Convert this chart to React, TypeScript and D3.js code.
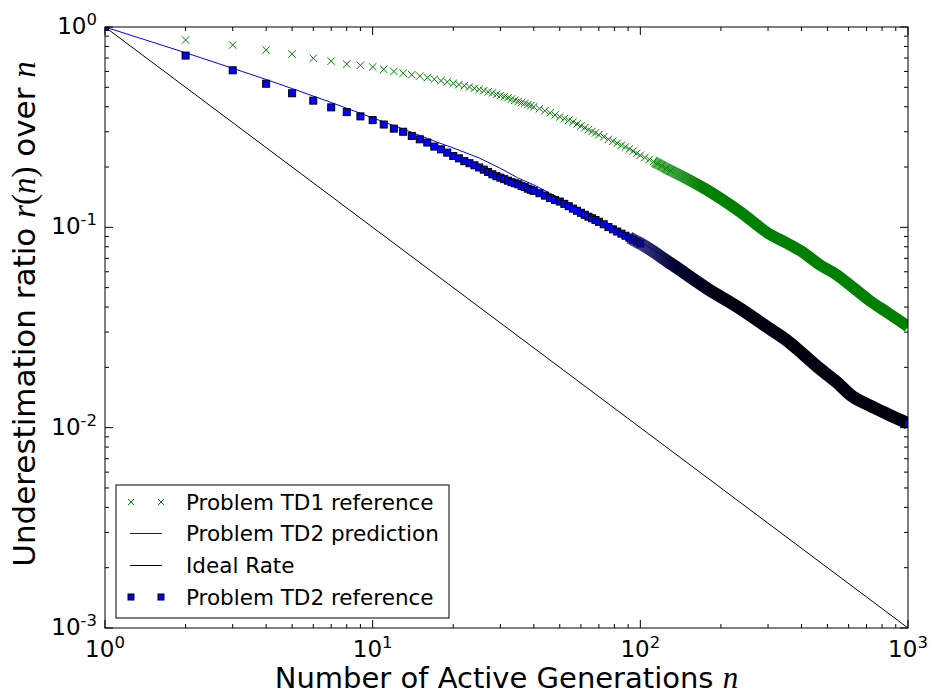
import React from "react";
import * as d3 from "d3";

// ---- data ----
const td1N = [1,2,3,4,5,6,7,8,9,10,11,12,13,14,15,16,17,18,19,20,21,22,23,24,25,26,27,28,29,30,31,32,33,34,35,36,37,38,39,40,42,44,46,48,50,52,54,56,58,60,62,64,66,68,70,73,76,79,82,85,88,91,94,97,100,104,108,112,116,120,125,130,177,235,304,352,404,468,541,621,719,832,1000];
const td1Values = [1.0,0.861,0.813,0.768,0.733,0.698,0.676,0.653,0.644,0.632,0.615,0.600,0.588,0.578,0.569,0.559,0.549,0.540,0.532,0.523,0.516,0.509,0.502,0.495,0.488,0.481,0.474,0.468,0.461,0.455,0.449,0.443,0.437,0.431,0.425,0.420,0.415,0.410,0.405,0.400,0.391,0.382,0.373,0.364,0.356,0.349,0.342,0.336,0.328,0.321,0.314,0.307,0.301,0.296,0.290,0.283,0.275,0.269,0.263,0.257,0.252,0.246,0.240,0.234,0.229,0.223,0.218,0.213,0.208,0.203,0.197,0.192,0.154,0.120,0.0925,0.0835,0.0752,0.0650,0.0580,0.0503,0.0431,0.0378,0.0320];

const td2N = [1,2,3,4,5,6,7,8,9,10,11,12,13,14,15,16,17,18,19,20,21,22,23,24,25,26,27,28,29,30,31,32,33,34,35,36,37,38,39,40,42,44,46,48,50,52,54,56,58,60,62,64,66,68,70,73,76,79,82,85,88,91,94,97,100,132,177,235,304,352,404,468,541,621,719,832,1000];
const td2Values = [1.0,0.720,0.608,0.521,0.467,0.429,0.397,0.376,0.358,0.343,0.326,0.311,0.300,0.286,0.275,0.265,0.253,0.245,0.236,0.227,0.221,0.214,0.209,0.204,0.199,0.194,0.189,0.184,0.180,0.177,0.174,0.171,0.168,0.166,0.164,0.161,0.159,0.156,0.154,0.152,0.148,0.144,0.140,0.137,0.1345,0.131,0.1275,0.124,0.1210,0.1182,0.1155,0.1130,0.1110,0.1088,0.1066,0.1036,0.1003,0.0977,0.0953,0.0930,0.0908,0.0888,0.0868,0.0848,0.0830,0.0650,0.0497,0.0395,0.0312,0.0273,0.0234,0.0197,0.0169,0.0143,0.0129,0.01175,0.0105];

const predN = [1,2,3,4,5,6,7,8,9,10,12,14,16,18,20,25,30,35,40,45,50,60,75,100,150,200,300,400,500,700,1000];
const predValues = [1,0.744,0.622,0.547,0.493,0.452,0.42,0.393,0.371,0.352,0.322,0.298,0.278,0.262,0.249,0.222,0.197,0.176,0.163,0.150,0.140,0.122,0.104,0.085,0.060,0.047,0.032,0.0237,0.019,0.0132,0.0106];

const idealN = [1, 1000];
const idealValues = [1, 0.001];

const xTickExps = [0, 1, 2, 3];
const yTickExps = [-3, -2, -1, 0];

const legendLabels = ["Problem TD1 reference", "Problem TD2 prediction", "Ideal Rate", "Problem TD2 reference"];

const W = 932, H = 694;
const L = 105, R = 908, T = 27, B = 628;
const GREEN = "#008000", BLUE = "#0000ff";
const FONT = "'DejaVu Sans', sans-serif";
const MATH = "'Liberation Serif', 'DejaVu Serif', serif";

const zip = (a: number[], b: number[]) => a.map((v, i) => [v, b[i]] as [number, number]);

export default function App() {
  const x = d3.scaleLog().domain([1, 1000]).range([L, R]);
  const y = d3.scaleLog().domain([0.001, 1]).range([B, T]);
  const line = d3.line<[number, number]>().x(d => x(d[0])).y(d => y(d[1]));
  const bandLine = d3.line<[number, number]>().x(d => x(d[0])).y(d => y(d[1])).curve(d3.curveMonotoneX);

  const td1 = zip(td1N, td1Values);
  const td2 = zip(td2N, td2Values);
  const pred = zip(predN, predValues);
  const ideal = zip(idealN, idealValues);

  const td1Band = td1.filter(d => d[0] >= 112);
  const td2Band = td2.filter(d => d[0] >= 91);
  const td2Last = td2[td2.length - 1];

  const minorX: number[] = [];
  [1, 10, 100].forEach(dd => { for (let k = 2; k <= 9; k++) minorX.push(dd * k); });
  const minorY: number[] = [];
  [0.001, 0.01, 0.1].forEach(dd => { for (let k = 2; k <= 9; k++) minorY.push(dd * k); });

  const crossPath = (s: number) => `M${-s},${-s}L${s},${s}M${-s},${s}L${s},${-s}`;

  const legendRows = [502, 533.5, 565.5, 597];
  const yMid = 314;

  return (
    <div style={{ position: "absolute", left: 0, top: 0 }}>
      <svg width={W} height={H} style={{ display: "block", background: "#fff" }} fontFamily={FONT}>
        <defs>
          <clipPath id="plotClip">
            <rect x={L} y={T} width={R - L} height={B - T} />
          </clipPath>
          <linearGradient id="bandBlack" gradientUnits="userSpaceOnUse" x1={x(91)} x2={x(200)} y1={0} y2={0}>
            <stop offset="0" stopColor="#0c0c78" stopOpacity={0.75} />
            <stop offset="0.5" stopColor="#020230" stopOpacity={1} />
            <stop offset="1" stopColor="#00000e" stopOpacity={1} />
          </linearGradient>
          <linearGradient id="bandGreen" gradientUnits="userSpaceOnUse" x1={x(112)} x2={x(170)} y1={0} y2={0}>
            <stop offset="0" stopColor={GREEN} stopOpacity={0.6} />
            <stop offset="1" stopColor={GREEN} stopOpacity={1} />
          </linearGradient>
        </defs>
        <rect x={0} y={0} width={W} height={H} fill="#fff" />

        <g clipPath="url(#plotClip)">
          {/* TD1 reference crosses */}
          {td1.map((d, i) => (
            <path key={"c" + i} d={crossPath(3.7)} transform={`translate(${x(d[0])},${y(d[1])})`} stroke={GREEN} strokeWidth={1} fill="none" />
          ))}
          <path d={bandLine(td1Band) || ""} fill="none" stroke="url(#bandGreen)" strokeWidth={11.5} strokeLinejoin="round" />
          {/* TD2 prediction */}
          <path d={line(pred) || ""} fill="none" stroke={BLUE} strokeWidth={1} />
          {/* Ideal rate */}
          <path d={line(ideal) || ""} fill="none" stroke="#000" strokeWidth={1} />
          {/* TD2 reference squares */}
          {td2.map((d, i) => (
            <rect key={"s" + i} x={x(d[0]) - 3.5} y={y(d[1]) - 3.5} width={7} height={7} fill={BLUE} stroke="#000" strokeWidth={1} />
          ))}
          <path d={bandLine(td2Band) || ""} fill="none" stroke="url(#bandBlack)" strokeWidth={12.5} strokeLinejoin="round" />
          <rect x={x(td2Last[0]) - 3.5} y={y(td2Last[1]) - 3.5} width={7} height={7} fill={BLUE} stroke="#000" strokeWidth={1} />
        </g>

        {/* frame */}
        <rect x={L} y={T} width={R - L} height={B - T} fill="none" stroke="#000" strokeWidth={1} />

        {/* ticks */}
        {xTickExps.map(e => {
          const px = x(Math.pow(10, e));
          return (
            <g key={"xt" + e}>
              <line x1={px} x2={px} y1={B} y2={B - 8} stroke="#000" />
              <line x1={px} x2={px} y1={T} y2={T + 8} stroke="#000" />
            </g>
          );
        })}
        {minorX.map(v => {
          const px = x(v);
          return (
            <g key={"xm" + v}>
              <line x1={px} x2={px} y1={B} y2={B - 4} stroke="#000" />
              <line x1={px} x2={px} y1={T} y2={T + 4} stroke="#000" />
            </g>
          );
        })}
        {yTickExps.map(e => {
          const py = y(Math.pow(10, e));
          return (
            <g key={"yt" + e}>
              <line x1={L} x2={L + 8} y1={py} y2={py} stroke="#000" />
              <line x1={R} x2={R - 8} y1={py} y2={py} stroke="#000" />
            </g>
          );
        })}
        {minorY.map(v => {
          const py = y(v);
          return (
            <g key={"ym" + v}>
              <line x1={L} x2={L + 4} y1={py} y2={py} stroke="#000" />
              <line x1={R} x2={R - 4} y1={py} y2={py} stroke="#000" />
            </g>
          );
        })}

        {/* tick labels */}
        {xTickExps.map(e => (
          <text key={"xl" + e} x={x(Math.pow(10, e))} y={657} textAnchor="middle" fontSize={23} fill="#000">
            <tspan>10</tspan>
            <tspan dy={-9} fontSize={16.5}>{String(e)}</tspan>
          </text>
        ))}
        {yTickExps.map(e => (
          <text key={"yl" + e} x={97} y={y(Math.pow(10, e)) + 7} textAnchor="end" fontSize={23} fill="#000">
            <tspan>10</tspan>
            <tspan dy={-9} fontSize={16.5}>{String(e)}</tspan>
          </text>
        ))}

        {/* axis labels */}
        <text x={(L + R) / 2} y={688} textAnchor="middle" fontSize={29} fill="#000">
          Number of Active Generations <tspan fontFamily={MATH} fontStyle="italic" fontSize={31}>n</tspan>
        </text>
        <text transform={`translate(35,${yMid}) rotate(-90)`} textAnchor="middle" fontSize={31} fill="#000">
          Underestimation ratio <tspan fontFamily={MATH} fontStyle="italic" fontSize={33}>r</tspan>
          <tspan fontFamily={MATH} fontSize={33}>(</tspan>
          <tspan fontFamily={MATH} fontStyle="italic" fontSize={33}>n</tspan>
          <tspan fontFamily={MATH} fontSize={33}>)</tspan> over <tspan fontFamily={MATH} fontStyle="italic" fontSize={33}>n</tspan>
        </text>

        {/* legend */}
        <rect x={116} y={485} width={333} height={133} fill="#fff" stroke="#000" strokeWidth={1} />
        {legendLabels.map((lab, i) => {
          const ly = legendRows[i];
          return (
            <g key={"lg" + i}>
              {i === 0 && [131, 161].map(mx => (
                <path key={mx} d={crossPath(3)} transform={`translate(${mx},${ly})`} stroke={GREEN} strokeWidth={1} fill="none" />
              ))}
              {i === 1 && <line x1={130} x2={162} y1={ly} y2={ly} stroke={BLUE} strokeWidth={1} />}
              {i === 2 && <line x1={130} x2={162} y1={ly} y2={ly} stroke="#000" strokeWidth={1} />}
              {i === 3 && [131, 161].map(mx => (
                <rect key={mx} x={mx - 3} y={ly - 3} width={6} height={6} fill={BLUE} stroke="#000" strokeWidth={1} />
              ))}
              <text x={186} y={ly + 7.5} fontSize={21.5} fill="#000">{lab}</text>
            </g>
          );
        })}
      </svg>
    </div>
  );
}
